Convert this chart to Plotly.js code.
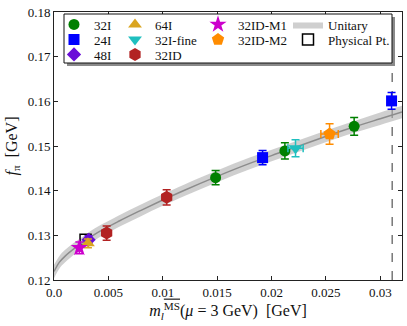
<!DOCTYPE html>
<html>
<head>
<meta charset="utf-8">
<script src="https://cdn.plot.ly/plotly-3.0.1.min.js"></script>
<style>
  html, body { margin: 0; padding: 0; background: #fff; }
  #chart { width: 407px; height: 326px; }
</style>
</head>
<body>
<div id="chart"></div>
<script>
// ensemble names (legend order, column by column like the original)
const names = ['32I', '24I', '48I', '64I', '32I-fine', '32ID', '32ID-M1', '32ID-M2']

// light quark mass [GeV] and f_pi [GeV] per ensemble
const mass32I = [0.01486, 0.02123, 0.0276]
const fpi32I = [0.1429, 0.1489, 0.1544]
const err32I = [0.0016, 0.0018, 0.0020]

const mass24I = [0.01918, 0.03104]
const fpi24I = [0.1474, 0.1601]
const err24I = [0.0016, 0.0019]

const mass48I = [0.00318]
const fpi48I = [0.1290]
const err48I = [0.0009]

const mass64I = [0.00312]
const fpi64I = [0.1282]
const err64I = [0.0010]

const mass32Ifine = [0.02221]
const fpi32Ifine = [0.1495]
const err32Ifine = [0.0019]
const xerr32Ifine = [0.0007]

const mass32ID = [0.00484, 0.01036]
const fpi32ID = [0.1305, 0.1385]
const err32ID = [0.0016, 0.0017]

const mass32IDM1 = [0.00233]
const fpi32IDM1 = [0.1272]
const err32IDM1 = [0.0013]

const mass32IDM2 = [0.02534]
const fpi32IDM2 = [0.1527]
const err32IDM2 = [0.0023]
const xerr32IDM2 = [0.0008]

// physical point
const massPhys = [0.0029]
const fpiPhys = [0.1290]
const physLine = 0.0311

// unitary fit curve and its error band
const fitMass = [0, 0.0005, 0.001, 0.002, 0.003, 0.004, 0.006, 0.008, 0.010, 0.012, 0.015, 0.018, 0.021, 0.024, 0.027, 0.030, 0.032]
const fitFpi = [0.1219, 0.1240, 0.1253, 0.1273, 0.1290, 0.1306, 0.1332, 0.1356, 0.1379, 0.1401, 0.1432, 0.1461, 0.1487, 0.1513, 0.1538, 0.1561, 0.1576]
const fitErr = [0.0015, 0.0014, 0.0014, 0.0013, 0.0013, 0.0013, 0.0013, 0.0013, 0.0013, 0.0013, 0.0013, 0.0013, 0.0013, 0.0013, 0.0013, 0.0014, 0.0014]

// axis ticks
const xTickVals = [0, 0.005, 0.01, 0.015, 0.02, 0.025, 0.03]
const xTickText = ['0.0', '0.005', '0.01', '0.015', '0.02', '0.025', '0.03']
const yTickVals = [0.12, 0.13, 0.14, 0.15, 0.16, 0.17, 0.18]
const yTickText = ['0.12', '0.13', '0.14', '0.15', '0.16', '0.17', '0.18']

const FONT = 'Liberation Serif, Times New Roman, serif'

// legend slots (column, row) in the 4 column grid of the original
const legendCols = [54, 115, 198, 288]   // px of legend item origin
const legendRows = [24, 39, 54]          // px of row centre
const PLOT_L = 54, PLOT_T = 12, PLOT_W = 348, PLOT_H = 268

function legendSlot(col, row) {
  return {
    x: (legendCols[col] - PLOT_L) / PLOT_W,
    y: 1 - (legendRows[row] - 14.5 - PLOT_T) / PLOT_H,
    xanchor: 'left',
    yanchor: 'top',
    bgcolor: 'rgba(0,0,0,0)',
    borderwidth: 0,
    font: { family: FONT, size: 13, color: '#111' }
  }
}

function pointTrace(name, x, y, err, color, symbol, size, legendId, xerr) {
  const t = {
    x: x,
    y: y,
    name: name,
    type: 'scatter',
    mode: 'markers',
    legend: legendId,
    marker: { color: color, symbol: symbol, size: size },
    error_y: { type: 'data', array: err, color: color, thickness: 1.5, width: 4 }
  }
  if (xerr) {
    t.error_x = { type: 'data', array: xerr, color: color, thickness: 1.5, width: 4 }
  }
  return t
}

const bandLower = fitFpi.map((v, i) => v - fitErr[i])
const bandUpper = fitFpi.map((v, i) => v + fitErr[i])

const data = [
  {
    x: fitMass, y: bandLower, type: 'scatter', mode: 'lines',
    line: { width: 0, shape: 'spline' }, showlegend: false, hoverinfo: 'skip'
  },
  {
    x: fitMass, y: bandUpper, type: 'scatter', mode: 'lines', fill: 'tonexty',
    fillcolor: 'rgba(175,175,175,0.6)', line: { width: 0, shape: 'spline' },
    name: 'Unitary', legend: 'legend9'
  },
  {
    x: fitMass, y: fitFpi, type: 'scatter', mode: 'lines',
    line: { color: '#8c8c8c', width: 1.5, shape: 'spline' }, showlegend: false
  },
  {
    x: massPhys, y: fpiPhys, type: 'scatter', mode: 'markers', name: 'Physical Pt.',
    legend: 'legend10',
    marker: { symbol: 'square-open', size: 11, color: '#000', line: { width: 1.5, color: '#000' } }
  },
  pointTrace(names[0], mass32I, fpi32I, err32I, '#008000', 'circle', 11, 'legend'),
  pointTrace(names[1], mass24I, fpi24I, err24I, '#0000ff', 'square', 11, 'legend2'),
  pointTrace(names[2], mass48I, fpi48I, err48I, '#6a0dd8', 'diamond', 11, 'legend3'),
  pointTrace(names[3], mass64I, fpi64I, err64I, '#daa520', 'triangle-up', 12, 'legend4'),
  pointTrace(names[4], mass32Ifine, fpi32Ifine, err32Ifine, '#1fbfbf', 'triangle-down', 12, 'legend5', xerr32Ifine),
  pointTrace(names[5], mass32ID, fpi32ID, err32ID, '#b22222', 'hexagon', 13, 'legend6'),
  pointTrace(names[6], mass32IDM1, fpi32IDM1, err32IDM1, '#cc00cc', 'star', 13, 'legend7'),
  pointTrace(names[7], mass32IDM2, fpi32IDM2, err32IDM2, '#ff8c00', 'pentagon', 13, 'legend8', xerr32IDM2)
]

const layout = {
  width: 407,
  height: 326,
  margin: { l: PLOT_L, r: 5, t: PLOT_T, b: 46, autoexpand: false },
  paper_bgcolor: '#fff',
  plot_bgcolor: '#fff',
  font: { family: FONT, size: 12, color: '#111' },
  showlegend: true,
  legend: legendSlot(0, 0),
  legend2: legendSlot(0, 1),
  legend3: legendSlot(0, 2),
  legend4: legendSlot(1, 0),
  legend5: legendSlot(1, 1),
  legend6: legendSlot(1, 2),
  legend7: legendSlot(2, 0),
  legend8: legendSlot(2, 1),
  legend9: legendSlot(3, 0),
  legend10: legendSlot(3, 1),
  xaxis: {
    range: [0, 0.032],
    tickvals: xTickVals,
    ticktext: xTickText,
    ticks: 'inside',
    ticklen: 4,
    tickcolor: '#222',
    showgrid: false,
    zeroline: false,
    showline: true,
    linecolor: '#222',
    linewidth: 1,
    mirror: 'ticks',
    tickfont: { family: FONT, size: 13 },
    title: {
      text: '<i>m</i><sub><i>l</i></sub><sup><span style="text-decoration:overline">MS</span></sup>(<i>μ</i> = 3 GeV)  [GeV]',
      font: { family: FONT, size: 16 },
      standoff: 5
    }
  },
  yaxis: {
    range: [0.12, 0.18],
    tickvals: yTickVals,
    ticktext: yTickText,
    ticks: 'inside',
    ticklen: 4,
    tickcolor: '#222',
    showgrid: false,
    zeroline: false,
    showline: true,
    linecolor: '#222',
    linewidth: 1,
    mirror: 'ticks',
    tickfont: { family: FONT, size: 13 },
    title: {
      text: '<i>f</i><sub>π</sub>  [GeV]',
      font: { family: FONT, size: 16 },
      standoff: 6
    }
  },
  shapes: [
    {
      type: 'line', xref: 'x', yref: 'paper', x0: physLine, x1: physLine, y0: 0, y1: 1,
      line: { color: '#777', width: 1.5, dash: 'dash' }, layer: 'below'
    },
    // legend frame shadow and frame
    {
      type: 'rect', xref: 'paper', yref: 'paper',
      x0: (67 - PLOT_L) / PLOT_W, x1: (395 - PLOT_L) / PLOT_W,
      y0: 1 - (66 - PLOT_T) / PLOT_H, y1: 1 - (17 - PLOT_T) / PLOT_H,
      fillcolor: '#8a8a8a', line: { width: 0 }
    },
    {
      type: 'rect', xref: 'paper', yref: 'paper',
      x0: (64 - PLOT_L) / PLOT_W, x1: (392 - PLOT_L) / PLOT_W,
      y0: 1 - (63 - PLOT_T) / PLOT_H, y1: 1 - (14 - PLOT_T) / PLOT_H,
      fillcolor: '#fff', line: { color: '#111', width: 1 }
    }
  ]
}

Plotly.newPlot('chart', data, layout, { displayModeBar: false, responsive: false })
</script>
</body>
</html>
